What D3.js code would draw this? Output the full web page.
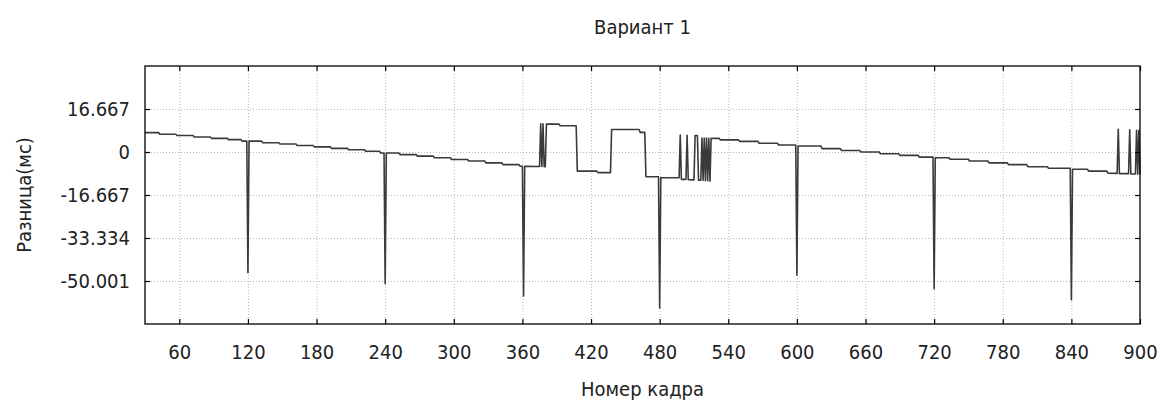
<!DOCTYPE html>
<html>
<head>
<meta charset="utf-8">
<script src="https://cdn.jsdelivr.net/npm/d3@7"></script>
<style>
  html, body { margin: 0; padding: 0; background: #fff; }
  svg { display: block; }
  text { font-family: "DejaVu Sans Condensed", "DejaVu Sans", sans-serif; font-stretch: condensed; fill: #222; }
</style>
</head>
<body>
<svg id="chart" width="1164" height="406"></svg>
<script>
// ---- data (polyline vertices) ----
const frames = [
  30, 42, 43, 57, 58, 72, 73, 87, 88, 102, 103, 114, 115, 119, 120, 121,
  132, 133, 147, 148, 162, 163, 177, 178, 192, 193, 207, 208, 222, 223, 235, 236, 239, 240, 241,
  252, 253, 267, 268, 282, 283, 297, 298, 312, 313, 327, 328, 342, 343, 357, 358, 360, 361, 362,
  375, 376, 377, 378, 379, 380, 381, 392, 393, 407, 408, 425, 426, 437, 438, 462, 463, 467, 468,
  479, 480, 481, 497, 498, 499, 503, 504, 505, 510, 511, 513, 514, 516, 517,
  518, 519, 520, 521, 522, 523, 524, 525, 532, 533,
  549, 550, 566, 567, 583, 584, 599, 600, 601, 621, 622, 638, 639, 655, 656, 672, 673, 689, 690, 706, 707,
  719, 720, 721, 733, 734, 750, 751, 767, 768, 784, 785, 801, 802, 819, 820, 839, 840, 841,
  854, 855, 871, 872, 880, 881, 882, 890, 891, 892, 896, 897, 898, 899, 900
];
const diffMs = [
  7.5, 7.5, 6.9, 6.9, 6.4, 6.4, 5.8, 5.8, 5.3, 5.3, 4.8, 4.8, 4.2, 4.2, -46.8, 4.2,
  4.2, 3.6, 3.6, 3.1, 3.1, 2.5, 2.5, 2.0, 2.0, 1.4, 1.4, 0.9, 0.9, 0.3, 0.3, -0.4, -0.4, -51.0, -0.4,
  -0.4, -1.0, -1.0, -1.6, -1.6, -2.2, -2.2, -2.9, -2.9, -3.5, -3.5, -4.2, -4.2, -4.9, -4.9, -5.5, -5.5, -55.8, -5.5,
  -5.6, 10.9, -5.6, 10.9, -5.7, -5.7, 10.8, 10.8, 10.2, 10.2, -7.4, -7.4, -8.0, -8.0, 8.7, 8.7, 7.6, 7.6, -9.6,
  -9.6, -60.5, -10.0, -10.0, 6.6, -10.6, -10.6, 6.5, -10.7, -10.8, 6.4, 6.4, -10.9, -10.9, 5.4,
  -11.0, 5.4, -11.1, 5.4, -11.1, 5.3, -11.3, 5.3, 5.3, 4.7,
  4.7, 4.1, 4.1, 3.4, 3.4, 2.7, 2.7, -47.8, 2.3, 2.3, 1.3, 1.3, 0.6, 0.6, 0.0, 0.0, -0.7, -0.7, -1.3, -1.3, -2.0,
  -2.0, -53.0, -2.2, -2.2, -2.8, -2.8, -3.5, -3.5, -4.2, -4.2, -4.9, -4.9, -5.7, -5.7, -6.3, -6.3, -57.3, -6.7,
  -6.7, -7.4, -7.4, -8.2, -8.3, 8.8, -8.4, -8.4, 8.6, -8.5, -8.5, 8.4, -8.6, 8.3, -8.6
];
const xTicks = [60, 120, 180, 240, 300, 360, 420, 480, 540, 600, 660, 720, 780, 840, 900];
const yTicks = [16.667, 0, -16.667, -33.334, -50.001];
const yTickLabels = ["16.667", "0", "-16.667", "-33.334", "-50.001"];
const xDomain = [30, 900];
const yDomain = [-66.668, 33.334];
const titleText = "Вариант 1";
const xLabelText = "Номер кадра";
const yLabelText = "Разница(мс)";

(function () {
  // ---- layout ----
  const svg = d3.select("#chart");
  const mL = 145, mR = 1140, mT = 66, mB = 324;
  const W = mR - mL, H = mB - mT;
  const x = d3.scaleLinear().domain(xDomain).range([0, W]);
  const y = d3.scaleLinear().domain(yDomain).range([H, 0]);
  const g = svg.append("g").attr("transform", `translate(${mL},${mT})`);
  const FS = 20;
  const FF = '"DejaVu Sans Condensed", "DejaVu Sans", sans-serif';

  // grid
  const gx = g.append("g").attr("transform", `translate(0,${H})`)
    .call(d3.axisBottom(x).tickValues(xTicks.filter(v => v < xDomain[1])).tickSize(-H).tickFormat(""));
  const gy = g.append("g")
    .call(d3.axisLeft(y).tickValues(yTicks).tickSize(-W).tickFormat(""));
  [gx, gy].forEach(s => {
    s.select(".domain").remove();
    s.selectAll("line").attr("stroke", "#b8b8b8").attr("stroke-dasharray", "1,2").attr("stroke-width", 1);
  });

  // data line
  const pts = frames.map((f, i) => [f, diffMs[i]]);
  g.append("path")
    .datum(pts)
    .attr("fill", "none")
    .attr("stroke", "#3a3a3a")
    .attr("stroke-width", 1.6)
    .attr("stroke-linejoin", "round")
    .attr("d", d3.line().x(d => x(d[0])).y(d => y(d[1])));

  // axes with inward ticks (mirrored)
  const ax = g.append("g").attr("transform", `translate(0,${H})`)
    .call(d3.axisBottom(x).tickValues(xTicks).tickSize(-5).tickPadding(21).tickFormat(d3.format("d")));
  const axTop = g.append("g")
    .call(d3.axisTop(x).tickValues(xTicks).tickSize(-5).tickFormat(""));
  const ay = g.append("g")
    .call(d3.axisLeft(y).tickValues(yTicks).tickSize(-5).tickPadding(15).tickFormat((d, i) => yTickLabels[i]));
  const ayR = g.append("g").attr("transform", `translate(${W},0)`)
    .call(d3.axisRight(y).tickValues(yTicks).tickSize(-5).tickFormat(""));
  [ax, axTop, ay, ayR].forEach(s => {
    s.select(".domain").remove();
    s.selectAll("line").attr("stroke", "#000").attr("stroke-width", 1.2);
    s.selectAll("text").attr("font-size", FS).attr("fill", "#222").style("font-family", FF);
  });

  // frame
  g.append("rect").attr("x", 0).attr("y", 0).attr("width", W).attr("height", H)
    .attr("fill", "none").attr("stroke", "#000").attr("stroke-width", 1.3);

  // titles
  svg.append("text").attr("x", mL + W / 2).attr("y", 34).attr("text-anchor", "middle")
    .attr("font-size", FS).text(titleText);
  svg.append("text").attr("x", mL + W / 2).attr("y", 396).attr("text-anchor", "middle")
    .attr("font-size", FS).text(xLabelText);
  svg.append("text").attr("transform", `translate(31,${mT + H / 2}) rotate(-90)`)
    .attr("text-anchor", "middle").attr("font-size", FS).text(yLabelText);
})();
</script>
</body>
</html>
